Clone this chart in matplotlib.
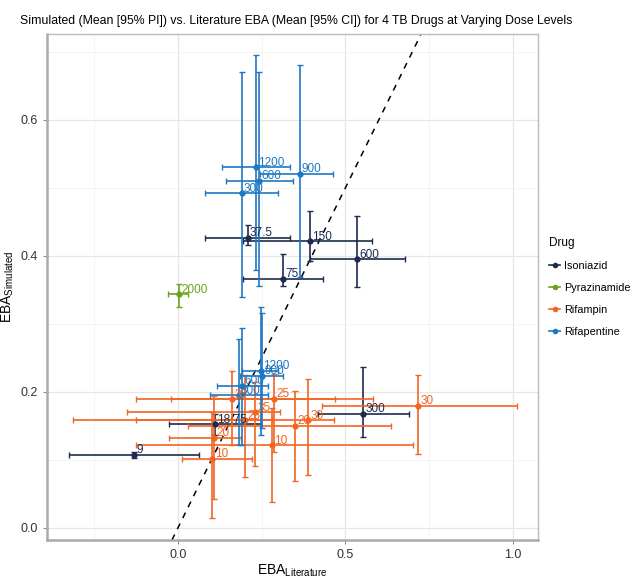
import matplotlib
matplotlib.use("Agg")
import matplotlib.pyplot as plt
from matplotlib import font_manager as fm
from matplotlib.lines import Line2D

avail = {f.name for f in fm.fontManager.ttflist}
narrow = "Liberation Sans Narrow" if "Liberation Sans Narrow" in avail else "Liberation Sans"
plt.rcParams["font.family"] = [narrow, "DejaVu Sans"]
plt.rcParams["mathtext.fontset"] = "custom"
plt.rcParams["mathtext.rm"] = narrow
plt.rcParams["mathtext.it"] = narrow

# ---------------- data ----------------
drugs = ["Isoniazid", "Pyrazinamide", "Rifampin", "Rifapentine"]
colors = {"Isoniazid": "#1c2b4e", "Pyrazinamide": "#69a31f",
          "Rifampin": "#f26522", "Rifapentine": "#1f78c4"}

inh_dose = ["9", "18.75", "37.5", "75", "150", "300", "600"]
inh_lit = [-0.130, 0.110, 0.208, 0.315, 0.395, 0.553, 0.536]
inh_lit_lo = [-0.326, -0.027, 0.081, 0.193, 0.193, 0.419, 0.394]
inh_lit_hi = [0.064, 0.248, 0.333, 0.434, 0.578, 0.690, 0.679]
inh_sim = [0.107, 0.152, 0.426, 0.366, 0.421, 0.168, 0.395]
inh_sim_lo = [0.103, 0.136, 0.416, 0.355, 0.392, 0.133, 0.354]
inh_sim_hi = [0.112, 0.167, 0.445, 0.403, 0.466, 0.237, 0.458]

pza_dose = ["2000"]
pza_lit = [0.004]
pza_lit_lo = [-0.029]
pza_lit_hi = [0.031]
pza_sim = [0.343]
pza_sim_lo = [0.324]
pza_sim_hi = [0.359]

rif_dose = ["10", "10", "20", "20", "25", "25", "30", "30", "35", "35"]
rif_lit = [0.103, 0.280, 0.109, 0.349, 0.200, 0.288, 0.389, 0.717, 0.162, 0.230]
rif_lit_lo = [0.011, -0.124, -0.027, 0.031, -0.313, -0.021, -0.124, 0.429, -0.125, -0.153]
rif_lit_hi = [0.220, 0.703, 0.187, 0.635, 0.282, 0.582, 0.467, 1.011, 0.469, 0.306]
rif_sim = [0.101, 0.121, 0.132, 0.150, 0.158, 0.190, 0.158, 0.179, 0.189, 0.170]
rif_sim_lo = [0.015, 0.038, 0.043, 0.069, 0.074, 0.112, 0.077, 0.108, 0.122, 0.091]
rif_sim_hi = [0.170, 0.176, 0.194, 0.201, 0.224, 0.226, 0.219, 0.224, 0.230, 0.214]

rpt_dose = ["300", "600", "900", "1200", "300", "600", "900", "1200"]
rpt_lit = [0.191, 0.243, 0.363, 0.233, 0.181, 0.192, 0.252, 0.248]
rpt_lit_lo = [0.081, 0.142, 0.245, 0.130, 0.096, 0.117, 0.185, 0.190]
rpt_lit_hi = [0.300, 0.344, 0.464, 0.334, 0.270, 0.268, 0.314, 0.300]
rpt_sim = [0.492, 0.510, 0.520, 0.530, 0.195, 0.209, 0.223, 0.231]
rpt_sim_lo = [0.339, 0.355, 0.368, 0.379, 0.122, 0.122, 0.146, 0.136]
rpt_sim_hi = [0.670, 0.670, 0.680, 0.695, 0.277, 0.293, 0.316, 0.324]

series = {
    "Isoniazid": (inh_dose, inh_lit, inh_lit_lo, inh_lit_hi, inh_sim, inh_sim_lo, inh_sim_hi),
    "Pyrazinamide": (pza_dose, pza_lit, pza_lit_lo, pza_lit_hi, pza_sim, pza_sim_lo, pza_sim_hi),
    "Rifampin": (rif_dose, rif_lit, rif_lit_lo, rif_lit_hi, rif_sim, rif_sim_lo, rif_sim_hi),
    "Rifapentine": (rpt_dose, rpt_lit, rpt_lit_lo, rpt_lit_hi, rpt_sim, rpt_sim_lo, rpt_sim_hi),
}

# ---------------- plot ----------------
fig = plt.figure(figsize=(6.32, 5.78), dpi=100)
ax = fig.add_axes([0.0744, 0.0657, 0.7769, 0.8755])
ax.set_xlim(-0.391, 1.075)
ax.set_ylim(-0.018, 0.726)

ax.set_xticks([0.0, 0.5, 1.0])
ax.set_xticks([-0.25, 0.25, 0.75], minor=True)
ax.set_yticks([0.0, 0.2, 0.4, 0.6])
ax.set_yticks([0.1, 0.3, 0.5, 0.7], minor=True)
ax.set_xticklabels(["0.0", "0.5", "1.0"])
ax.set_yticklabels(["0.0", "0.2", "0.4", "0.6"])
ax.grid(which="major", color="#e6e6e6", lw=0.9)
ax.grid(which="minor", color="#f2f2f2", lw=0.6)
ax.set_axisbelow(True)
ax.tick_params(which="major", length=3, color="#888888", labelsize=9, labelcolor="#333333")
ax.tick_params(which="minor", length=0)
for s in ["top", "right"]:
    ax.spines[s].set_color("#bbbbbb")
    ax.spines[s].set_linewidth(1.0)
for s in ["left", "bottom"]:
    ax.spines[s].set_color("#aaaaaa")
    ax.spines[s].set_linewidth(1.8)

ax.axline((0, 0), slope=1, color="black", lw=1.1, ls=(0, (4, 4)), zorder=1)

for drug in drugs:
    dose, lit, llo, lhi, sim, slo, shi = series[drug]
    c = colors[drug]
    xerr = [[l - a for l, a in zip(lit, llo)], [b - l for l, b in zip(lit, lhi)]]
    yerr = [[s - a for s, a in zip(sim, slo)], [b - s for s, b in zip(sim, shi)]]
    ax.errorbar(lit, sim, xerr=xerr, yerr=yerr, fmt="o", color=c, ms=3.5,
                elinewidth=1.2, capsize=2.5, capthick=1.0, zorder=3)
    for d, x, y in zip(dose, lit, sim):
        ax.annotate(d, (x, y), xytext=(1.5, -1), textcoords="offset points",
                    ha="left", va="bottom", fontsize=8.5, color=c, zorder=4)

ax.set_xlabel(r"EBA$_{\mathrm{Literature}}$", fontsize=10, labelpad=1)
ax.set_ylabel(r"EBA$_{\mathrm{Simulated}}$", fontsize=10, labelpad=3)

fig.text(0.032, 0.963, "Simulated (Mean [95% PI]) vs. Literature EBA (Mean [95% CI]) for 4 TB Drugs at Varying Dose Levels",
         fontsize=8.8, ha="left", va="center")

handles = [Line2D([0], [0], color=colors[d], marker="o", ms=3, lw=1.2) for d in drugs]
leg = fig.legend(handles, drugs, title="Drug", loc="upper left",
                 bbox_to_anchor=(0.862, 0.597), frameon=False, fontsize=7.8,
                 title_fontsize=8.5, handlelength=1.0, handletextpad=0.35,
                 labelspacing=1.1, borderaxespad=0)
leg._legend_box.align = "left"

fig.savefig("out.png", dpi=100)
